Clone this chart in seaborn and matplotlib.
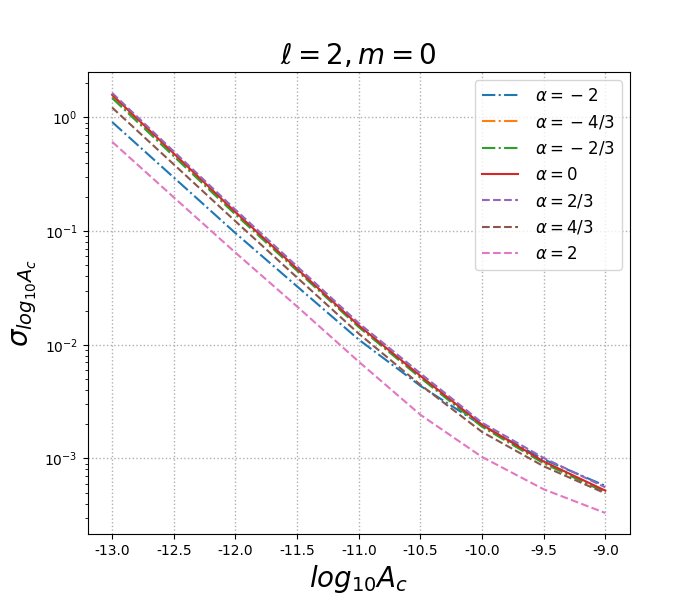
import numpy as np
import pandas as pd
import matplotlib
matplotlib.use("Agg")
import matplotlib.pyplot as plt
import seaborn as sns

# x grid (log10 A_c) and sigma values
log_ac = [-13.0, -12.5, -12.0, -11.5, -11.0, -10.5, -10.0, -9.5, -9.0]

sig_m2 = [0.91, 0.296, 0.096, 0.0326, 0.0111, 4.35e-3, 1.95e-3, 9.8e-4, 5.74e-4]
sig_m43 = [1.52, 0.467, 0.143, 0.0456, 0.0145, 5.2e-3, 1.93e-3, 9.2e-4, 5.1e-4]
sig_m23 = [1.48, 0.455, 0.140, 0.0448, 0.0143, 5.12e-3, 1.90e-3, 9.06e-4, 5.03e-4]
sig_0 = [1.58, 0.482, 0.147, 0.0466, 0.0148, 5.33e-3, 1.98e-3, 9.4e-4, 5.21e-4]
sig_p23 = [1.64, 0.502, 0.154, 0.0489, 0.0155, 5.6e-3, 2.06e-3, 1.01e-3, 5.57e-4]
sig_p43 = [1.22, 0.386, 0.122, 0.039, 0.01253, 4.44e-3, 1.71e-3, 8.53e-4, 4.93e-4]
sig_p2 = [0.61, 0.198, 0.0646, 0.0217, 0.0071, 2.42e-3, 1.03e-3, 5.35e-4, 3.31e-4]

labels = [r'$\alpha =\:-\:2$', r'$\alpha =\:-\:4/3$', r'$\alpha =\:-\:2/3$', r'$\alpha = 0$',
          r'$\alpha = 2/3$', r'$\alpha = 4/3$', r'$\alpha = 2$']
series = [sig_m2, sig_m43, sig_m23, sig_0, sig_p23, sig_p43, sig_p2]
styles = ['-.', '-.', '-.', '-', '--', '--', '--']
colors = sns.color_palette("tab10", 7)

plt.rcParams['axes.unicode_minus'] = False

fig, ax = plt.subplots(figsize=(7, 6), dpi=100)

for lab, vals, ls, c in zip(labels, series, styles, colors):
    df = pd.DataFrame({'x': log_ac, 'y': vals})
    sns.lineplot(data=df, x='x', y='y', ax=ax, color=c, linestyle=ls,
                 label=lab, linewidth=1.5)

ax.set_yscale('log')
xt = [-13.0, -12.5, -12.0, -11.5, -11.0, -10.5, -10.0, -9.5, -9.0]
ax.set_xticks(xt)
ax.set_xticklabels(['%.1f' % v for v in xt])
ax.grid(True, which='major', linestyle=':', color='#b0b0b0', linewidth=1)

ax.set_title(r'$\ell=2, m=0$', fontsize=20)
ax.set_xlabel(r'$log_{10}A_c$', fontsize=20)
ax.set_ylabel(r'$\sigma_{log_{10}A_c}$', fontsize=20)
ax.legend(loc='upper right', fontsize=12, handlelength=2.2, handletextpad=1.0)

fig.savefig('out.png', dpi=100)
